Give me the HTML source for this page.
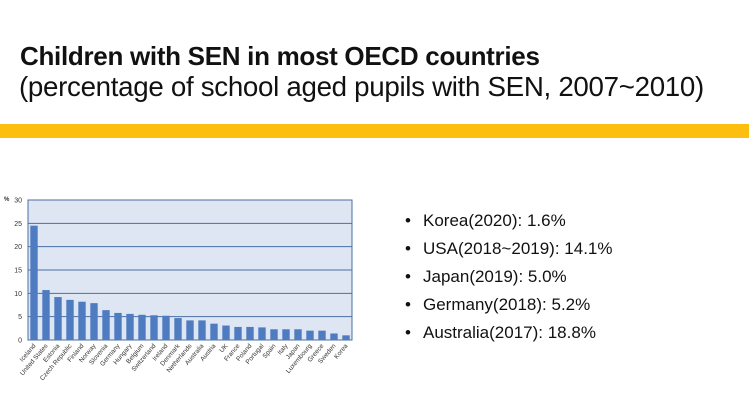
<!DOCTYPE html>
<html><head><meta charset="utf-8"><style>
body{margin:0;width:749px;height:414px;background:#fff;position:relative;overflow:hidden;font-family:"Liberation Sans",sans-serif}
.t1{position:absolute;left:20px;top:41px;font-size:26px;line-height:30px;font-weight:bold;color:#111;white-space:nowrap;letter-spacing:-0.3px}
.t2{position:absolute;left:19px;top:71px;font-size:27.7px;line-height:32px;color:#111;white-space:nowrap;letter-spacing:-0.3px}
.bar{position:absolute;left:0;top:124px;width:749px;height:14px;background:#fdbf0f}
ul{position:absolute;left:405px;top:207px;margin:0;padding:0;list-style:none;font-size:17px;color:#111}
li{height:28px;line-height:28px;white-space:nowrap}
li:before{content:"•";display:inline-block;width:18px}
</style></head><body>
<div class="t1">Children with SEN in most OECD countries</div>
<div class="t2">(percentage of school aged pupils with SEN, 2007~2010)</div>
<div class="bar"></div>
<svg id="c" width="360" height="220" style="position:absolute;left:0;top:190px"></svg>
<ul>
<li>Korea(2020): 1.6%</li>
<li>USA(2018~2019): 14.1%</li>
<li>Japan(2019): 5.0%</li>
<li>Germany(2018): 5.2%</li>
<li>Australia(2017): 18.8%</li>
</ul>
<script>
const categories=["Iceland","United States","Estonia","Czech Republic","Finland","Norway","Slovenia","Germany","Hungary","Belgium","Switzerland","Ireland","Denmark","Netherlands","Australia","Austria","UK","France","Poland","Portugal","Spain","Italy","Japan","Luxembourg","Greece","Sweden","Korea"];
const values=[24.5,10.7,9.2,8.6,8.2,7.9,6.4,5.8,5.6,5.4,5.3,5.2,4.7,4.2,4.2,3.5,3.1,2.8,2.8,2.7,2.3,2.3,2.3,2.0,2.0,1.4,1.0];
const ticks=[0,5,10,15,20,25,30];
const NS="http://www.w3.org/2000/svg",svg=document.getElementById('c');
const L=28,R=352,T=10,B=150,ymax=30;
const y=v=>B-(v/ymax)*(B-T);
const bw=(R-L)/categories.length;
const x=i=>L+i*bw;
function mk(t,a){const e=document.createElementNS(NS,t);for(const k in a)e.setAttribute(k,a[k]);svg.appendChild(e);return e;}
const bg=mk('rect',{x:L,y:T,width:R-L,height:B-T,fill:'#dfe6f3',stroke:'#4a6fa5','stroke-width':1});


ticks.forEach(t=>{
 const g=mk('line',{x1:L,x2:R,y1:y(t),y2:y(t),stroke:'#4a6fa5','stroke-width':1});
 
 
 const lb=mk('text',{x:L-6,y:y(t)+2.5,'font-size':7,'text-anchor':'end',fill:'#333'});
 lb.textContent=t;
 
 
});
const pu=mk('text',{x:4,y:T+1,'font-size':6,'font-weight':'bold',fill:'#333'});pu.textContent='%';


values.forEach((v,i)=>{
 const r=mk('rect',{x:x(i)+2.3,y:y(v),width:bw-4.6,height:B-y(v),fill:'#4f7cc0'});
 
 
 const cx=x(i)+bw/2+2;
 const tx=mk('text',{x:cx,y:B+6,'font-size':6.5,'text-anchor':'end',fill:'#333',transform:`rotate(-50 ${cx} ${B+6})`});
 tx.textContent=categories[i];
 
 
});
</script>
</body></html>
